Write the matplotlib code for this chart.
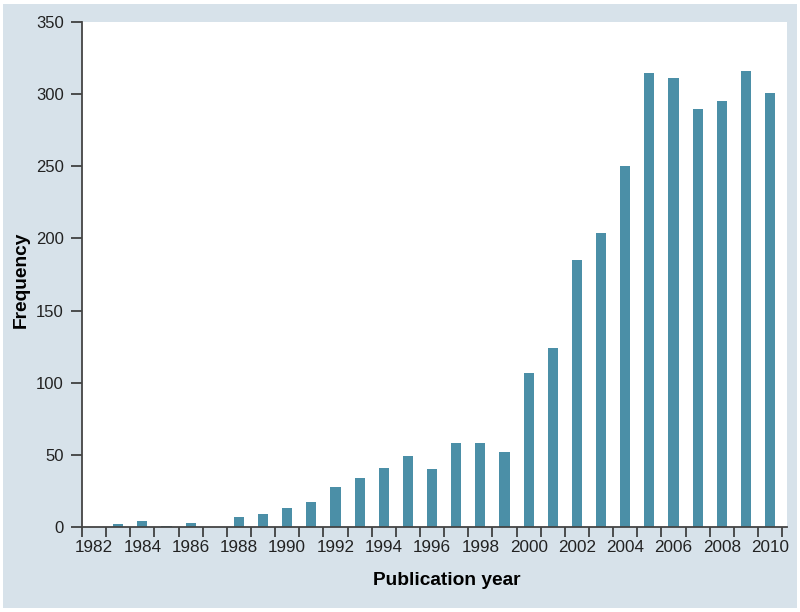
import numpy as np
import matplotlib.pyplot as plt
from matplotlib.patches import Rectangle

years = np.arange(1982, 2011)
counts = [0, 2, 4, 1, 3, 0, 7, 9, 13, 17, 28, 34, 41, 49, 40, 58, 58, 52,
          107, 124, 185, 204, 250, 315, 311, 290, 295, 316, 301]
label_years = np.arange(1982, 2011, 2)

plt.rcParams['font.family'] = ['Liberation Sans', 'DejaVu Sans']

fig = plt.figure(figsize=(8, 6.12), dpi=100)
fig.patch.set_facecolor('white')
# light blue panel behind the plot
fig.patches.append(Rectangle((3/800, 4/612), 794/800, 604/612, transform=fig.transFigure,
                             facecolor='#d7e2ea', edgecolor='none', zorder=-10))

ax = fig.add_axes([82/800, 85/612, 705/800, 505/612])
ax.set_facecolor('white')
ax.bar(years, counts, width=0.42, color='#4b8fa7', zorder=2)

ax.set_xlim(1981.5, 2010.7)
ax.set_ylim(0, 350)
ax.set_yticks(np.arange(0, 351, 50))
ax.set_xticks(np.arange(1981.5, 2011, 1))
ax.set_xticklabels([])
ax.set_xticks(label_years, minor=True)
ax.set_xticklabels([str(y) for y in label_years], minor=True)
ax.tick_params(axis='x', which='minor', length=0, pad=9, labelsize=12.3, colors='#222222')
ax.tick_params(axis='x', which='major', length=7, width=1.2, color='#333333', direction='out')
ax.tick_params(axis='y', length=8, width=1.2, color='#333333', labelsize=12,
               labelcolor='#222222', pad=5)

for s in ['top', 'right']:
    ax.spines[s].set_visible(False)
for s in ['left', 'bottom']:
    ax.spines[s].set_color('#444444')
    ax.spines[s].set_linewidth(1.3)

ax.set_xlabel('Publication year', fontsize=13.8, fontweight='bold', labelpad=13)
ax.set_ylabel('Frequency', fontsize=13.8, fontweight='bold', labelpad=5)
ax.xaxis.set_label_coords(0.517, -0.09)
ax.yaxis.set_label_coords(-0.074, 0.49)

fig.savefig('out.png', dpi=100, facecolor=fig.get_facecolor())
